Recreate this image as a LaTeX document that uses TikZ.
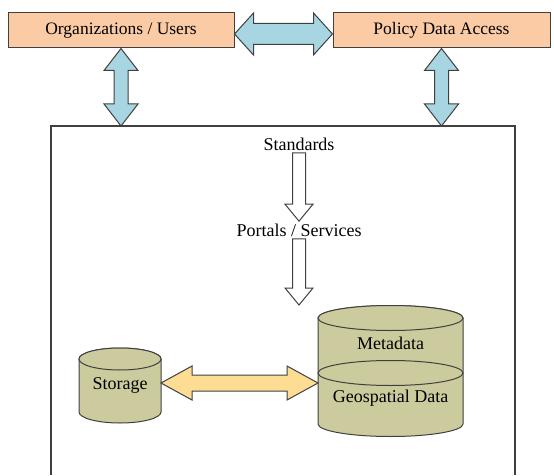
\documentclass[tikz,border=0pt]{standalone}
\usepackage{fontspec}
\setmainfont{Liberation Serif}
\usepackage{tikz}
\usetikzlibrary{calc}

\definecolor{peachfill}{RGB}{251,203,165}
\definecolor{bluefill}{RGB}{168,213,226}
\definecolor{yellowfill}{RGB}{253,221,148}
\definecolor{olivefill}{RGB}{203,203,157}
\definecolor{edgegray}{RGB}{64,64,64}

% double block arrow: from, to, shaft half width, head half width, head length, style
\newcommand{\fatdouble}[6]{%
  \draw[#6] (#1) -- ($(#1)!#5!(#2)!#4!90:(#2)$) -- ($(#1)!#5!(#2)!#3!90:(#2)$)
    -- ($(#2)!#5!(#1)!#3!-90:(#1)$) -- ($(#2)!#5!(#1)!#4!-90:(#1)$) -- (#2)
    -- ($(#2)!#5!(#1)!#4!90:(#1)$) -- ($(#2)!#5!(#1)!#3!90:(#1)$)
    -- ($(#1)!#5!(#2)!#3!-90:(#2)$) -- ($(#1)!#5!(#2)!#4!-90:(#2)$) -- cycle;}
% single block arrow, same arguments
\newcommand{\fatsingle}[6]{%
  \draw[#6] ($(#1)!#3!90:(#2)$) -- ($(#2)!#5!(#1)!#3!-90:(#1)$)
    -- ($(#2)!#5!(#1)!#4!-90:(#1)$) -- (#2) -- ($(#2)!#5!(#1)!#4!90:(#1)$)
    -- ($(#2)!#5!(#1)!#3!90:(#1)$) -- ($(#1)!#3!-90:(#2)$) -- cycle;}

\begin{document}
\begin{tikzpicture}[x=1pt, y=1pt, line width=1pt,
    txt/.style={font=\fontsize{18}{20}\selectfont, inner sep=2pt},
    topbox/.style={draw=edgegray, fill=peachfill, minimum height=35pt, inner sep=0pt,
        font=\fontsize{17.5}{20}\selectfont},
    bluearrow/.style={draw=edgegray, fill=bluefill, line join=miter},
    yellowarrow/.style={draw=edgegray, fill=yellowfill, line join=miter},
    hollowarrow/.style={draw=edgegray, fill=white, line join=miter},
    cyl/.style={draw=edgegray, fill=olivefill}]
    \useasboundingbox (0,0) rectangle (554,475);

    % Top boxes
    \node[topbox, minimum width=226pt] (orgs) at (121,444.5) {Organizations / Users};
    \node[topbox, minimum width=217pt] (policy) at (441.5,444.5) {Policy Data Access};

    % Frame
    \coordinate (frameTop) at (0,349);
    \draw[edgegray, line width=1.2pt] (51,0) |- (515,349) -- (515,0);

    % Blue arrows
    \coordinate (orgsR) at ([yshift=-3.5pt]orgs.east);
    \coordinate (policyL) at ([yshift=-3.5pt]policy.west);
    \coordinate (orgsDown) at (orgs.south |- frameTop);
    \coordinate (policyDown) at (policy.south |- frameTop);
    \fatdouble{orgsR}{policyL}{10.5pt}{21pt}{19pt}{bluearrow}
    \fatdouble{orgs.south}{orgsDown}{7pt}{17pt}{22pt}{bluearrow}
    \fatdouble{policy.south}{policyDown}{7pt}{17pt}{22pt}{bluearrow}

    % Standards and portals
    \node[txt] (standards) at (299,331) {Standards};
    \node[txt] (portals) at (299,245) {Portals / Services};
    \coordinate (metaTop) at (390.5,170);
    \coordinate (portalsDown) at (portals.south |- metaTop);
    \fatsingle{standards.south}{portals.north}{6.5pt}{14pt}{17pt}{hollowarrow}
    \fatsingle{portals.south}{portalsDown}{6.5pt}{14pt}{17pt}{hollowarrow}

    % Storage cylinder
    \draw[cyl] (79,116) -- (79,63) arc[start angle=180, end angle=360, x radius=41, y radius=11]
        -- (161,116) arc[start angle=0, end angle=180, x radius=41, y radius=11] -- cycle;
    \draw[cyl] (120,116) ellipse[x radius=41, y radius=11];
    \node[txt] (store) at (120,90) {Storage};

    % Metadata / geospatial cylinder
    \draw[cyl] (318,157) -- (318,51) arc[start angle=180, end angle=360, x radius=72.5, y radius=12.5]
        -- (463,157) arc[start angle=0, end angle=180, x radius=72.5, y radius=12.5] -- cycle;
    \draw[cyl] (390.5,157) ellipse[x radius=72.5, y radius=12.5];
    \draw[edgegray] (390.5,102) ellipse[x radius=72.5, y radius=12.5];
    \node[txt] (meta) at (390.5,132) {Metadata};
    \node[txt] (geo) at (390.5,77) {Geospatial Data};

    % Yellow arrow
    \coordinate (storeR) at (161,92);
    \coordinate (metaL) at (318,92);
    \fatdouble{storeR}{metaL}{8pt}{17pt}{31pt}{yellowarrow}
\end{tikzpicture}
\end{document}
